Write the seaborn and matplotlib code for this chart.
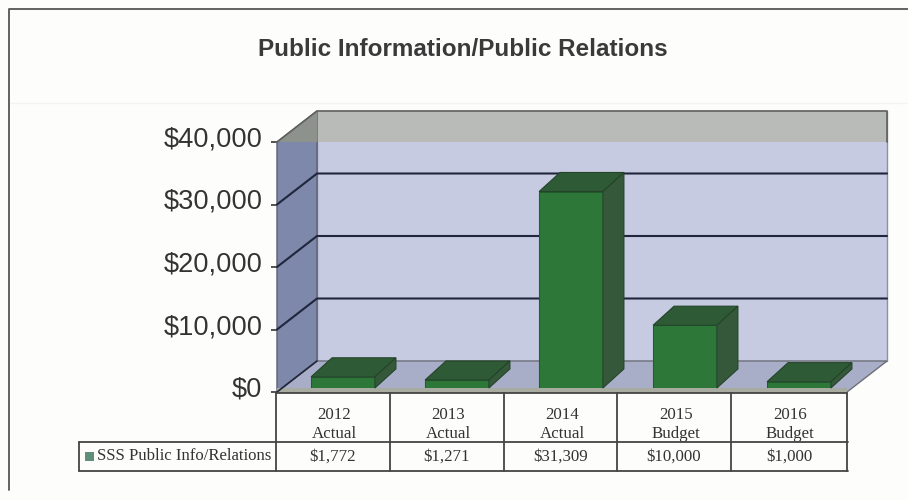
import matplotlib
matplotlib.use("Agg")
import matplotlib.pyplot as plt
import numpy as np
import pandas as pd
import seaborn as sns
from matplotlib.patches import Polygon, Rectangle
from matplotlib.transforms import ScaledTranslation

years = ["2012", "2013", "2014", "2015", "2016"]
kinds = ["Actual", "Actual", "Actual", "Budget", "Budget"]
values = [1772, 1271, 31309, 10000, 1000]
y_ticks = [0, 10000, 20000, 30000, 40000]
title = "Public Information/Public Relations"
series_name = "SSS Public Info/Relations"

sns.set_theme(style="white")
plt.rcParams["font.family"] = ["Liberation Sans", "DejaVu Sans"]

W, H = 908, 500
fig = plt.figure(figsize=(W / 100, H / 100), dpi=100, facecolor="#fdfdfc")


def rect(l, t, r, b):
    return [l / W, 1 - b / H, (r - l) / W, (b - t) / H]


# page overlay in pixel coordinates: frame, title
page = fig.add_axes([0, 0, 1, 1], zorder=0)
page.set_xlim(0, W)
page.set_ylim(H, 0)
page.axis("off")
page.plot([10, 908], [103, 103], color="#f3f3f1", lw=1)
page.plot([9, 9, 908], [490, 9, 9], color="#555555", lw=1.3)
page.text(463, 50, title, ha="center", va="center", fontsize=17.5,
          fontweight="bold", color="#3a3a3a")

# front-plane axes (walls, y ticks, category labels)
front = fig.add_axes(rect(277, 142, 847, 392), zorder=1)
front.patch.set_alpha(0)
front.set_xlim(-0.5, 4.5)
front.set_ylim(0, 40000)
px = 40000 / 250
DX, DY = 40 / 114, 31 * px
x0, x1 = -0.5, 4.5
top = y_ticks[-1]
front.add_patch(Rectangle((x0 + DX, DY), x1 - x0, top, fc="#c7cbe2", ec="#8d90a0", lw=1,
                          clip_on=False))
front.add_patch(Rectangle((x0 + DX, top), x1 - x0, DY, fc="#b9bbb8", ec="none", clip_on=False))
front.add_patch(Polygon([(x0, 0), (x0 + DX, DY), (x0 + DX, top + DY), (x0, top)],
                        fc="#7d88aa", ec="#5c6070", lw=1, clip_on=False))
front.add_patch(Polygon([(x0, top), (x0 + DX, top + DY), (x0 + DX, top)],
                        fc="#8e928c", ec="none", clip_on=False))
front.add_patch(Polygon([(x0, 0), (x0 + DX, DY), (x1 + DX, DY), (x1, 0)],
                        fc="#a9aec8", ec="#6d6f78", lw=1, clip_on=False))
front.add_patch(Rectangle((x0, 0), x1 - x0, 4 * px, fc="#a8ab9f", ec="none", clip_on=False))
front.plot([x0, x0 + DX, x1 + DX, x1 + DX], [top, top + DY, top + DY, top],
           color="#5f615f", lw=1.2, clip_on=False)
for v in y_ticks[1:-1]:
    front.plot([x0, x0 + DX, x1 + DX], [v, v + DY, v + DY], color="#20263c",
               lw=1.5, clip_on=False, zorder=2.5)
front.plot([x0, x0 + DX], [0, DY], color="#20263c", lw=1.2, clip_on=False)
front.set_yticks(y_ticks)
front.set_yticklabels([f"${v:,}" for v in y_ticks], fontsize=19.6, color="#333333")
front.set_xticks(range(len(years)))
front.set_xticklabels([f"{a}\n{b}" for a, b in zip(years, kinds)], fontsize=12.2,
                      family="Liberation Serif", color="#333333", linespacing=1.28)
front.tick_params(axis="y", left=True, length=4, width=1.3, color="#444444", pad=6.5)
front.tick_params(axis="x", bottom=False, pad=4.5)
shift = ScaledTranslation(0, 5.5 / 100, fig.dpi_scale_trans)
for lab in front.get_yticklabels():
    lab.set_transform(lab.get_transform() + shift)
for s in front.spines.values():
    s.set_visible(False)
front.grid(False)

# bar plane axes, set back a little from the front plane
bars = fig.add_axes(rect(286, 137, 856, 388), zorder=2)
bars.patch.set_alpha(0)
df = pd.DataFrame({"year": years, "value": values})
sns.barplot(data=df, x="year", y="value", ax=bars, color="#2d7839", width=0.56,
            saturation=1, edgecolor="#245c2e", linewidth=0.8)
bars.set_xlim(-0.5, 4.5)
bars.set_ylim(0, 40000)
bars.axis("off")
bdx, bdy = 21 / 114, 19 * px
for p in list(bars.patches):
    l, w, h = p.get_x(), p.get_width(), p.get_height()
    r = l + w
    bars.add_patch(Polygon([(l, h), (r, h), (r + bdx, h + bdy), (l + bdx, h + bdy)],
                           fc="#2e5a36", ec="#24442a", lw=0.8, clip_on=False))
    bars.add_patch(Polygon([(r, 0), (r + bdx, bdy), (r + bdx, h + bdy), (r, h)],
                           fc="#35583a", ec="#24442a", lw=0.8, clip_on=False))

# data table
table = fig.add_axes([0, 0, 1, 1], zorder=3)
table.set_xlim(0, W)
table.set_ylim(H, 0)
table.axis("off")
edges = [275.5, 389.5, 503.5, 617, 731, 847]
line = dict(color="#444444", lw=1.3)
table.plot([276, 847], [393, 393], **line)
table.plot([79, 848], [442, 442], **line)
table.plot([79, 848], [471, 471], **line)
table.plot([79, 79], [442, 471], **line)
for e in edges:
    table.plot([e, e], [393, 471], **line)
table.add_patch(Rectangle((85, 452), 9, 9, fc="#5f8f78", ec="none"))
table.text(97, 456.5, series_name, fontsize=12.1, family="Liberation Serif",
           va="center", ha="left", color="#333333")
for a, b, v in zip(edges[:-1], edges[1:], values):
    table.text((a + b) / 2, 456.5, f"${v:,}", fontsize=12.2, family="Liberation Serif",
               va="center", ha="center", color="#333333")

fig.savefig("out.png", dpi=100, facecolor=fig.get_facecolor())
